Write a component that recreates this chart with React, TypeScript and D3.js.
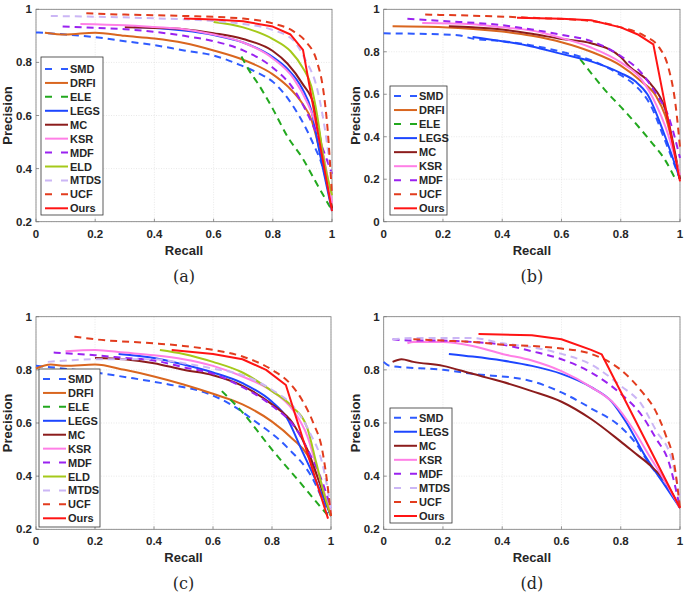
import React from "react";
import * as d3 from "d3";

type Pt = [number, number];

// ---------- Panel (a) ----------
const aSMD: Pt[] = [[0,0.913],[0.1,0.905],[0.2,0.895],[0.3,0.88],[0.4,0.865],[0.5,0.845],[0.6,0.826],[0.69,0.79],[0.75,0.76],[0.8,0.727],[0.87,0.633],[0.936,0.495],[0.97,0.4],[1,0.25]];
const aDRFI: Pt[] = [[0.03,0.912],[0.1,0.905],[0.2,0.912],[0.3,0.9],[0.4,0.89],[0.5,0.873],[0.6,0.845],[0.7,0.81],[0.8,0.755],[0.85,0.71],[0.9,0.645],[0.93,0.585],[0.96,0.46],[1,0.25]];
const aELE: Pt[] = [[0.694,0.822],[0.72,0.77],[0.75,0.72],[0.8,0.625],[0.85,0.52],[0.9,0.44],[0.95,0.34],[0.999,0.244]];
const aLEGS: Pt[] = [[0.33,0.932],[0.4,0.93],[0.5,0.92],[0.6,0.903],[0.7,0.875],[0.8,0.82],[0.85,0.775],[0.9,0.7],[0.93,0.62],[0.96,0.45],[1,0.24]];
const aMC: Pt[] = [[0.3,0.932],[0.4,0.93],[0.5,0.925],[0.6,0.91],[0.7,0.888],[0.8,0.843],[0.85,0.795],[0.9,0.72],[0.94,0.635],[0.97,0.45],[1,0.25]];
const aKSR: Pt[] = [[0.15,0.945],[0.3,0.94],[0.4,0.933],[0.5,0.925],[0.6,0.905],[0.7,0.875],[0.8,0.815],[0.87,0.74],[0.92,0.64],[0.95,0.55],[0.98,0.4],[1,0.27]];
const aMDF: Pt[] = [[0.09,0.935],[0.2,0.93],[0.3,0.925],[0.4,0.915],[0.5,0.9],[0.6,0.88],[0.7,0.845],[0.8,0.78],[0.87,0.7],[0.92,0.6],[0.96,0.5],[1,0.38]];
const aELD: Pt[] = [[0.6,0.952],[0.7,0.932],[0.8,0.888],[0.86,0.842],[0.9,0.782],[0.93,0.71],[0.95,0.6],[0.97,0.45],[1,0.3]];
const aMTDS: Pt[] = [[0.05,0.975],[0.2,0.972],[0.4,0.966],[0.6,0.956],[0.7,0.945],[0.8,0.922],[0.87,0.882],[0.91,0.81],[0.95,0.7],[0.98,0.52],[1,0.35]];
const aUCF: Pt[] = [[0.17,0.985],[0.3,0.98],[0.5,0.975],[0.7,0.965],[0.8,0.947],[0.87,0.917],[0.91,0.88],[0.95,0.8],[0.97,0.7],[0.985,0.55],[1,0.3]];
const aOurs: Pt[] = [[0.5,0.965],[0.6,0.962],[0.7,0.955],[0.8,0.935],[0.86,0.905],[0.902,0.847],[1,0.24]];

// ---------- Panel (b) ----------
const bSMD: Pt[] = [[0,0.887],[0.1,0.885],[0.25,0.878],[0.3,0.862],[0.4,0.85],[0.5,0.83],[0.6,0.8],[0.7,0.76],[0.8,0.69],[0.85,0.64],[0.9,0.55],[0.95,0.38],[1,0.2]];
const bDRFI: Pt[] = [[0.03,0.92],[0.2,0.916],[0.4,0.895],[0.5,0.875],[0.6,0.845],[0.7,0.8],[0.8,0.735],[0.87,0.66],[0.92,0.59],[0.95,0.5],[1,0.2]];
const bELE: Pt[] = [[0.663,0.765],[0.7,0.7],[0.75,0.615],[0.81,0.526],[0.9,0.38],[0.95,0.29],[0.983,0.204]];
const bLEGS: Pt[] = [[0.3,0.87],[0.4,0.85],[0.5,0.825],[0.6,0.79],[0.7,0.755],[0.8,0.7],[0.85,0.66],[0.89,0.6],[0.95,0.4],[1,0.2]];
const bMC: Pt[] = [[0.22,0.92],[0.3,0.915],[0.4,0.905],[0.5,0.885],[0.6,0.86],[0.7,0.84],[0.8,0.775],[0.83,0.73],[0.9,0.65],[0.95,0.53],[1,0.2]];
const bKSR: Pt[] = [[0.13,0.935],[0.3,0.93],[0.4,0.915],[0.5,0.9],[0.6,0.865],[0.7,0.82],[0.8,0.75],[0.87,0.67],[0.92,0.55],[0.95,0.45],[1,0.22]];
const bMDF: Pt[] = [[0.08,0.955],[0.2,0.945],[0.4,0.925],[0.5,0.905],[0.6,0.88],[0.7,0.85],[0.8,0.78],[0.87,0.7],[0.92,0.6],[0.96,0.5],[1,0.3]];
const bUCF: Pt[] = [[0.14,0.975],[0.3,0.97],[0.5,0.96],[0.7,0.945],[0.8,0.915],[0.88,0.875],[0.93,0.82],[0.96,0.73],[0.985,0.55],[1,0.35]];
const bOurs: Pt[] = [[0.45,0.96],[0.6,0.955],[0.7,0.948],[0.8,0.915],[0.86,0.88],[0.91,0.835],[1,0.19]];

// ---------- Panel (c) ----------
const cSMD: Pt[] = [[0,0.815],[0.05,0.81],[0.18,0.793],[0.33,0.768],[0.45,0.745],[0.58,0.712],[0.66,0.67],[0.737,0.611],[0.85,0.51],[0.94,0.386],[0.99,0.26]];
const cDRFI: Pt[] = [[0,0.805],[0.05,0.82],[0.1,0.815],[0.2,0.82],[0.3,0.8],[0.4,0.775],[0.5,0.745],[0.6,0.71],[0.7,0.67],[0.8,0.605],[0.87,0.54],[0.92,0.48],[0.96,0.38],[1,0.25]];
const cELE: Pt[] = [[0.63,0.72],[0.7,0.64],[0.8,0.5],[0.9,0.37],[0.96,0.29],[1,0.24]];
const cLEGS: Pt[] = [[0.28,0.86],[0.4,0.845],[0.5,0.82],[0.6,0.79],[0.7,0.75],[0.8,0.68],[0.85,0.62],[0.9,0.5],[0.95,0.38],[1,0.25]];
const cMC: Pt[] = [[0.2,0.845],[0.3,0.84],[0.4,0.825],[0.5,0.8],[0.6,0.78],[0.7,0.74],[0.8,0.67],[0.87,0.6],[0.92,0.5],[0.96,0.38],[1,0.25]];
const cKSR: Pt[] = [[0.1,0.87],[0.2,0.875],[0.3,0.865],[0.4,0.855],[0.5,0.84],[0.6,0.815],[0.7,0.775],[0.8,0.72],[0.87,0.65],[0.92,0.55],[0.96,0.4],[1,0.26]];
const cMDF: Pt[] = [[0.06,0.865],[0.2,0.855],[0.3,0.845],[0.4,0.835],[0.5,0.81],[0.6,0.785],[0.7,0.735],[0.8,0.665],[0.88,0.58],[0.93,0.48],[0.97,0.38],[1,0.28]];
const cELD: Pt[] = [[0.42,0.875],[0.5,0.86],[0.6,0.83],[0.7,0.79],[0.8,0.72],[0.87,0.66],[0.92,0.58],[0.95,0.45],[0.98,0.32],[1,0.25]];
const cMTDS: Pt[] = [[0.04,0.83],[0.1,0.835],[0.2,0.84],[0.4,0.84],[0.5,0.825],[0.6,0.805],[0.7,0.78],[0.8,0.725],[0.87,0.665],[0.93,0.56],[0.97,0.45],[1,0.28]];
const cUCF: Pt[] = [[0.13,0.925],[0.2,0.915],[0.4,0.9],[0.5,0.89],[0.6,0.875],[0.7,0.85],[0.8,0.8],[0.86,0.75],[0.9,0.69],[0.94,0.6],[0.97,0.5],[0.99,0.35],[1,0.25]];
const cOurs: Pt[] = [[0.46,0.875],[0.6,0.86],[0.7,0.84],[0.78,0.8],[0.847,0.743],[0.99,0.24]];

// ---------- Panel (d) ----------
const dSMD: Pt[] = [[0,0.83],[0.02,0.815],[0.2,0.8],[0.3,0.785],[0.483,0.762],[0.6,0.715],[0.7,0.655],[0.8,0.585],[0.85,0.525],[0.9,0.44],[0.95,0.37],[1,0.28]];
const dLEGS: Pt[] = [[0.22,0.86],[0.3,0.85],[0.4,0.835],[0.5,0.815],[0.6,0.785],[0.7,0.735],[0.77,0.68],[0.82,0.6],[0.88,0.48],[0.94,0.38],[1,0.28]];
const dMC: Pt[] = [[0.03,0.83],[0.06,0.84],[0.1,0.83],[0.2,0.815],[0.3,0.785],[0.4,0.755],[0.5,0.72],[0.6,0.68],[0.7,0.615],[0.8,0.53],[0.85,0.485],[0.9,0.44],[0.95,0.38],[1,0.28]];
const dKSR: Pt[] = [[0.08,0.9],[0.1,0.905],[0.2,0.905],[0.3,0.89],[0.4,0.86],[0.5,0.835],[0.6,0.795],[0.7,0.735],[0.78,0.67],[0.84,0.58],[0.9,0.47],[0.95,0.38],[1,0.28]];
const dMDF: Pt[] = [[0.03,0.915],[0.1,0.91],[0.2,0.91],[0.3,0.905],[0.4,0.895],[0.5,0.87],[0.6,0.84],[0.7,0.79],[0.8,0.71],[0.87,0.63],[0.92,0.54],[0.96,0.46],[1,0.28]];
const dMTDS: Pt[] = [[0.03,0.915],[0.1,0.92],[0.2,0.92],[0.3,0.92],[0.4,0.9],[0.5,0.885],[0.6,0.86],[0.7,0.82],[0.8,0.74],[0.87,0.67],[0.92,0.57],[0.97,0.47],[1,0.32]];
const dUCF: Pt[] = [[0.1,0.915],[0.2,0.91],[0.3,0.905],[0.4,0.895],[0.5,0.89],[0.6,0.88],[0.7,0.86],[0.8,0.8],[0.87,0.72],[0.92,0.64],[0.95,0.56],[0.98,0.45],[1,0.28]];
const dOurs: Pt[] = [[0.32,0.935],[0.5,0.93],[0.6,0.915],[0.7,0.875],[0.736,0.858],[1,0.28]];

const xTicks = [0, 0.2, 0.4, 0.6, 0.8, 1];
const yTicksA = [0.2, 0.4, 0.6, 0.8, 1];
const yTicksB = [0, 0.2, 0.4, 0.6, 0.8, 1];

const STYLE: Record<string, { color: string; dash: boolean }> = {
  SMD: { color: "#2f5bff", dash: true },
  DRFI: { color: "#d9661f", dash: false },
  ELE: { color: "#22a81e", dash: true },
  LEGS: { color: "#1d46ff", dash: false },
  MC: { color: "#8c1c1c", dash: false },
  KSR: { color: "#ff7fe6", dash: false },
  MDF: { color: "#9a22f0", dash: true },
  ELD: { color: "#a5c91a", dash: false },
  MTDS: { color: "#cbb6f5", dash: true },
  UCF: { color: "#e23c1e", dash: true },
  Ours: { color: "#ff1414", dash: false },
};

type Series = { name: string; data: Pt[] };

const panels = [
  {
    label: "(a)", left: 36, right: 332, top: 9.3, bottom: 221.7, yMin: 0.2, yTicks: yTicksA,
    legend: { x: 41, y: 57, w: 62, h: 158, first: 69, step: 13.93 },
    series: [
      { name: "SMD", data: aSMD }, { name: "DRFI", data: aDRFI }, { name: "ELE", data: aELE },
      { name: "LEGS", data: aLEGS }, { name: "MC", data: aMC }, { name: "KSR", data: aKSR },
      { name: "MDF", data: aMDF }, { name: "ELD", data: aELD }, { name: "MTDS", data: aMTDS },
      { name: "UCF", data: aUCF }, { name: "Ours", data: aOurs },
    ] as Series[],
  },
  {
    label: "(b)", left: 383.7, right: 680, top: 9.3, bottom: 221.7, yMin: 0, yTicks: yTicksB,
    legend: { x: 390, y: 86, w: 57, h: 129, first: 96, step: 14.04 },
    series: [
      { name: "SMD", data: bSMD }, { name: "DRFI", data: bDRFI }, { name: "ELE", data: bELE },
      { name: "LEGS", data: bLEGS }, { name: "MC", data: bMC }, { name: "KSR", data: bKSR },
      { name: "MDF", data: bMDF }, { name: "UCF", data: bUCF }, { name: "Ours", data: bOurs },
    ] as Series[],
  },
  {
    label: "(c)", left: 36, right: 331, top: 316.7, bottom: 529.3, yMin: 0.2, yTicks: yTicksA,
    legend: { x: 39, y: 369, w: 61, h: 158, first: 379, step: 13.93 },
    series: [
      { name: "SMD", data: cSMD }, { name: "DRFI", data: cDRFI }, { name: "ELE", data: cELE },
      { name: "LEGS", data: cLEGS }, { name: "MC", data: cMC }, { name: "KSR", data: cKSR },
      { name: "MDF", data: cMDF }, { name: "ELD", data: cELD }, { name: "MTDS", data: cMTDS },
      { name: "UCF", data: cUCF }, { name: "Ours", data: cOurs },
    ] as Series[],
  },
  {
    label: "(d)", left: 383.7, right: 680, top: 316.7, bottom: 529.3, yMin: 0.2, yTicks: yTicksA,
    legend: { x: 390, y: 408, w: 62, h: 115, first: 417.7, step: 14.04 },
    series: [
      { name: "SMD", data: dSMD }, { name: "LEGS", data: dLEGS }, { name: "MC", data: dMC },
      { name: "KSR", data: dKSR }, { name: "MDF", data: dMDF }, { name: "MTDS", data: dMTDS },
      { name: "UCF", data: dUCF }, { name: "Ours", data: dOurs },
    ] as Series[],
  },
];

const FONT = "'Liberation Sans', Arial, Helvetica, sans-serif";
const fmt = (v: number) => String(v);

function Panel({ p }: { p: (typeof panels)[number] }) {
  const x = d3.scaleLinear().domain([0, 1]).range([p.left, p.right]);
  const y = d3.scaleLinear().domain([p.yMin, 1]).range([p.bottom, p.top]);
  const smooth = d3.line<Pt>().x((d) => x(d[0])).y((d) => y(d[1])).curve(d3.curveMonotoneX);
  const straight = d3.line<Pt>().x((d) => x(d[0])).y((d) => y(d[1]));
  const cx = (p.left + p.right) / 2;
  const lg = p.legend;
  return (
    <g>
      <rect x={p.left} y={p.top} width={p.right - p.left} height={p.bottom - p.top} fill="#fff" />
      {xTicks.map((t) => (
        <line key={"gx" + t} x1={x(t)} x2={x(t)} y1={p.top} y2={p.bottom} stroke="#d9d9d9" strokeWidth={0.6} strokeDasharray="1,1.5" />
      ))}
      {p.yTicks.map((t) => (
        <line key={"gy" + t} x1={p.left} x2={p.right} y1={y(t)} y2={y(t)} stroke="#d9d9d9" strokeWidth={0.6} strokeDasharray="1,1.5" />
      ))}
      <rect x={p.left} y={p.top} width={p.right - p.left} height={p.bottom - p.top} fill="none" stroke="#7a7a7a" strokeWidth={0.8} />
      {xTicks.map((t) => (
        <g key={"tx" + t}>
          <line x1={x(t)} x2={x(t)} y1={p.bottom} y2={p.bottom - 3} stroke="#7a7a7a" strokeWidth={0.8} />
          <text x={x(t)} y={p.bottom + 16} textAnchor="middle" fontFamily={FONT} fontWeight="bold" fontSize={11.5} fill="#262626">{fmt(t)}</text>
        </g>
      ))}
      {p.yTicks.map((t) => (
        <g key={"ty" + t}>
          <line x1={p.left} x2={p.left + 3} y1={y(t)} y2={y(t)} stroke="#7a7a7a" strokeWidth={0.8} />
          <text x={p.left - 4} y={y(t) + 4} textAnchor="end" fontFamily={FONT} fontWeight="bold" fontSize={11.5} fill="#262626">{fmt(t)}</text>
        </g>
      ))}
      {p.series.map((s) => {
        const st = STYLE[s.name];
        return (
          <path key={s.name} d={(s.name === "Ours" ? straight : smooth)(s.data) || ""} fill="none" stroke={st.color}
            strokeWidth={2} strokeDasharray={st.dash ? "7,5" : undefined} strokeLinejoin="round" />
        );
      })}
      <text x={cx} y={p.bottom + 33} textAnchor="middle" fontFamily={FONT} fontWeight="bold" fontSize={13} fill="#262626">Recall</text>
      <text transform={`translate(${p.left - 24},${(p.top + p.bottom) / 2}) rotate(-90)`} textAnchor="middle"
        fontFamily={FONT} fontWeight="bold" fontSize={13} fill="#262626">Precision</text>
      <text x={cx} y={p.bottom + 60} textAnchor="middle" fontFamily="'DejaVu Serif', 'Liberation Serif', serif" fontSize={16} fill="#262626">{p.label}</text>
      <rect x={lg.x} y={lg.y} width={lg.w} height={lg.h} fill="#fff" stroke="#333" strokeWidth={0.8} />
      {p.series.map((s, i) => {
        const st = STYLE[s.name];
        const cy = lg.first + i * lg.step;
        return (
          <g key={"lg" + s.name}>
            <line x1={lg.x + 4} x2={lg.x + 27} y1={cy} y2={cy} stroke={st.color} strokeWidth={2} strokeDasharray={st.dash ? "7,9" : undefined} />
            <text x={lg.x + 29} y={cy + 4} fontFamily={FONT} fontWeight="bold" fontSize={11} fill="#262626">{s.name}</text>
          </g>
        );
      })}
    </g>
  );
}

export default function App() {
  return (
    <svg width={685} height={594} style={{ position: "absolute", left: 0, top: 0, background: "#fff" }}>
      <rect width={685} height={594} fill="#fff" />
      {panels.map((p) => (
        <Panel key={p.label} p={p} />
      ))}
    </svg>
  );
}
